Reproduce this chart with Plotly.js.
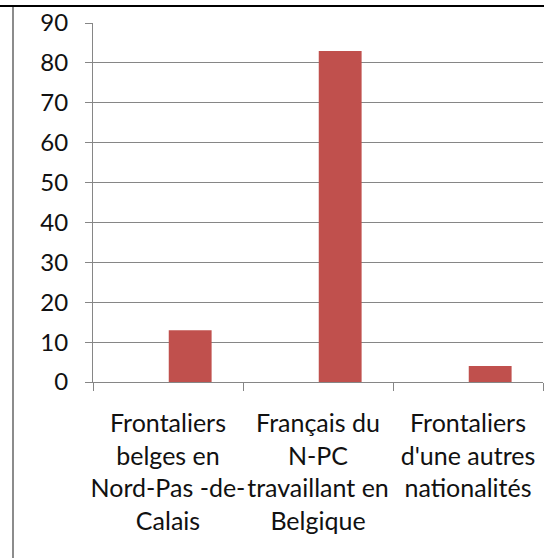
<!DOCTYPE html>
<html>
<head>
<meta charset="utf-8">
<script src="https://cdn.plot.ly/plotly-3.0.1.min.js"></script>
<style>
html,body{margin:0;padding:0;background:#fff;}
#wrap{position:relative;width:544px;height:558px;}
#chart{position:absolute;left:0;top:0;width:544px;height:558px;}
#topline{position:absolute;left:0;top:5px;width:544px;height:2px;background:#000;z-index:5;}
#leftline{position:absolute;left:12px;top:7px;width:1.5px;height:551px;background:#8c8c8c;z-index:5;}
</style>
</head>
<body>
<div id="wrap">
<div id="chart"></div>
<div id="topline"></div>
<div id="leftline"></div>
</div>
<script>
const categories = [
  "Frontaliers<br>belges en<br>Nord-Pas -de-<br>Calais",
  "Français du<br>N-PC<br>travaillant en<br>Belgique",
  "Frontaliers<br>d'une autres<br>nationalités"
];
const values = [13, 83, 4];
const yTicks = [0, 10, 20, 30, 40, 50, 60, 70, 80, 90];

const yFont = {family: "Lato, 'Open Sans', sans-serif", size: 24, color: "#111"};
const xFont = {family: "Lato, 'Open Sans', sans-serif", size: 25, color: "#111"};

Plotly.newPlot("chart", [{
  type: "bar",
  x: categories,
  y: values,
  width: 0.2857,
  offset: 0.005,
  marker: {color: "#C0504D"},
  hoverinfo: "none",
  showlegend: false
}], {
  width: 544,
  height: 558,
  margin: {l: 93, r: 1, t: 23, b: 176, pad: 0},
  paper_bgcolor: "#fff",
  plot_bgcolor: "#fff",
  font: yFont,
  xaxis: {
    type: "category",
    tickson: "boundaries",
    ticks: "outside",
    ticklen: 8,
    tickcolor: "#868686",
    showline: true,
    linecolor: "#868686",
    linewidth: 1,
    showgrid: false,
    tickfont: xFont,
    tickangle: 0,
    ticklabelstandoff: 19,
    automargin: false
  },
  yaxis: {
    range: [0, 90],
    tickvals: yTicks,
    ticktext: yTicks.map(String),
    ticks: "outside",
    ticklen: 7,
    tickcolor: "#868686",
    showline: true,
    linecolor: "#868686",
    linewidth: 1,
    showgrid: true,
    gridcolor: "#868686",
    gridwidth: 1,
    zeroline: false,
    tickfont: yFont,
    ticklabelstandoff: 12,
    automargin: false
  }
}, {staticPlot: true, displayModeBar: false});
</script>
</body>
</html>
